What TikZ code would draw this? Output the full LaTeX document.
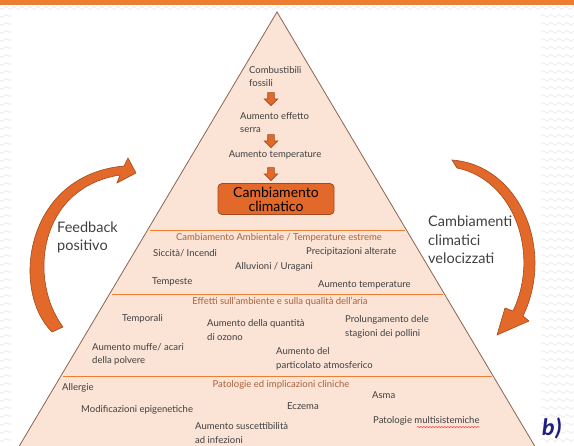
\documentclass[tikz,border=0pt]{standalone}
\usepackage{fontspec}
\setmainfont{Lato}
\newfontfamily\lettera{Carlito}
\usetikzlibrary{shapes.arrows,decorations.pathmorphing}

\definecolor{arancio}{HTML}{ED7D31}
\definecolor{pesca}{HTML}{FBE3D6}
\definecolor{bordo}{HTML}{8C6450}
\definecolor{testo}{HTML}{404040}
\definecolor{titolo}{HTML}{A9623C}
\definecolor{freccia}{HTML}{E2692A}
\definecolor{bordofreccia}{HTML}{A04A1E}
\definecolor{blu}{HTML}{1F1F7F}

\tikzset{
  voce/.style={font=\fontsize{9.5}{13.5}\selectfont, text=testo, inner sep=0pt, align=left, anchor=west},
  titoletto/.style={font=\fontsize{9.5}{13.5}\selectfont, text=titolo, inner sep=0pt},
  laterale/.style={font=\fontsize{14.5}{18.5}\selectfont, text=testo, inner sep=0pt, align=left, anchor=west},
  giu/.style={single arrow, rotate=-90, fill=freccia, draw=bordofreccia, line width=0.6pt,
    inner sep=0pt, minimum height=13pt,
    single arrow head extend=3.5pt, single arrow head indent=0pt},
  riquadro/.style={draw=bordofreccia, fill=freccia, line width=0.8pt, rounded corners=4pt,
    minimum width=116pt, minimum height=31pt, inner sep=0pt, align=center,
    font=\fontsize{14}{14}\selectfont, text=black},
  curva/.style={fill=freccia, draw=bordofreccia, line width=0.6pt},
  riga/.style={draw=arancio, line width=0.9pt},
  sfondo/.style={draw=gray!18, line width=0.6pt, decorate, decoration={zigzag, segment length=8pt, amplitude=1.5pt}},
}
\newcommand{\fusto}{\rule{0pt}{6pt}}

\begin{document}
\begin{tikzpicture}[x=1pt,y=-1pt]
\useasboundingbox (0,0) rectangle (574,446);
\clip (0,0) rectangle (574,446);

% fond de la diapositive
\fill[white] (0,0) rectangle (574,446);
\foreach \y in {16,24,...,446} {
  \draw[sfondo] (-4,\y) -- (11,\y);
  \draw[sfondo] (541,\y) -- (578,\y);
}
\draw[sfondo] (-4,8) -- (578,8);
\fill[arancio] (0,0) rectangle (574,5);

% la pyramide
\draw[fill=pesca, draw=bordo, line width=0.8pt] (277,12) -- (11,460) -- (543,460) -- cycle;

% séparations des étages
\foreach \y in {230,294,376} {
  \draw[riga] ({279-0.593*(\y-12)},\y) -- ({276+0.593*(\y-12)},\y);
}

% sommet
\node[voce] (comb) at (249,76.5) {Combustibili\\fossili};
\node[voce] (serra) at (240,122.5) {Aumento effetto\\serra};
\node[voce, anchor=center] (temp) at (275,155) {Aumento temperature};
\node[riquadro] (clima) at (276,199) {Cambiamento\\climatico};
\node[giu] (g1) at (271,97.5) {\fusto};
\node[giu] (g2) at (271,139.5) {\fusto};
\node[giu] (g3) at (271,172.5) {\fusto};

% étage 1
\node[titoletto] (amb) at (279,238) {Cambiamento Ambientale / Temperature estreme};
\node[voce] (siccita) at (153,253) {Siccità/ Incendi};
\node[voce] (precip) at (306,252) {Precipitazioni alterate};
\node[voce] (alluv) at (235,267) {Alluvioni / Uragani};
\node[voce] (tempeste) at (152,282) {Tempeste};
\node[voce] (aumtemp) at (318,285) {Aumento temperature};

% étage 2
\node[titoletto] (aria) at (280,302) {Effetti sull’ambiente e sulla qualità dell’aria};
\node[voce] (temporali) at (122,319) {Temporali};
\node[voce] (ozono) at (207,330) {Aumento della quantità\\di ozono};
\node[voce] (pollini) at (345,327) {Prolungamento dele\\stagioni dei pollini};
\node[voce] (muffe) at (92,354.5) {Aumento muffe/ acari\\della polvere};
\node[voce] (partic) at (276,359) {Aumento del\\particolato atmosferico};

% étage 3
\node[titoletto] (clin) at (281,385) {Patologie ed implicazioni cliniche};
\node[voce] (allergie) at (62,388) {Allergie};
\node[voce] (asma) at (372,395) {Asma};
\node[voce] (epi) at (81,410) {Modificazioni epigenetiche};
\node[voce] (eczema) at (287,406) {Eczema};
\node[voce] (multi) at (373,421) {Patologie multisistemiche};
\node[voce] (infez) at (195,433) {Aumento suscettibilità\\ad infezioni};
\draw[red!80, line width=0.5pt, decorate, decoration={snake, segment length=3pt, amplitude=0.6pt}]
  ([xshift=44pt,yshift=-1.5pt]multi.south west) -- ([yshift=-1.5pt]multi.south east);

% flèches courbes sur les côtés
\draw[curva] (52,332) .. controls (10,290) and (25,175) .. (124,166) -- (128,158) -- (136,173)
  -- (117,183) -- (120,175) .. controls (38,188) and (28,280) .. (63,327) -- cycle;
\draw[curva] (452,160) .. controls (520,165) and (555,250) .. (523,316) -- (529,321) -- (497,335)
  -- (505,308) -- (513,311) .. controls (540,255) and (515,180) .. (457,168) -- cycle;
\node[laterale] (feedback) at (57,237.5) {Feedback\\positivo};
\node[laterale] (veloci) at (428,240) {Cambiamenti\\climatici\\velocizzati};

\node[font=\lettera\bfseries\itshape\fontsize{24}{24}\selectfont, text=blu, inner sep=0pt] (lettera) at (552,428) {b)};
\end{tikzpicture}
\end{document}
